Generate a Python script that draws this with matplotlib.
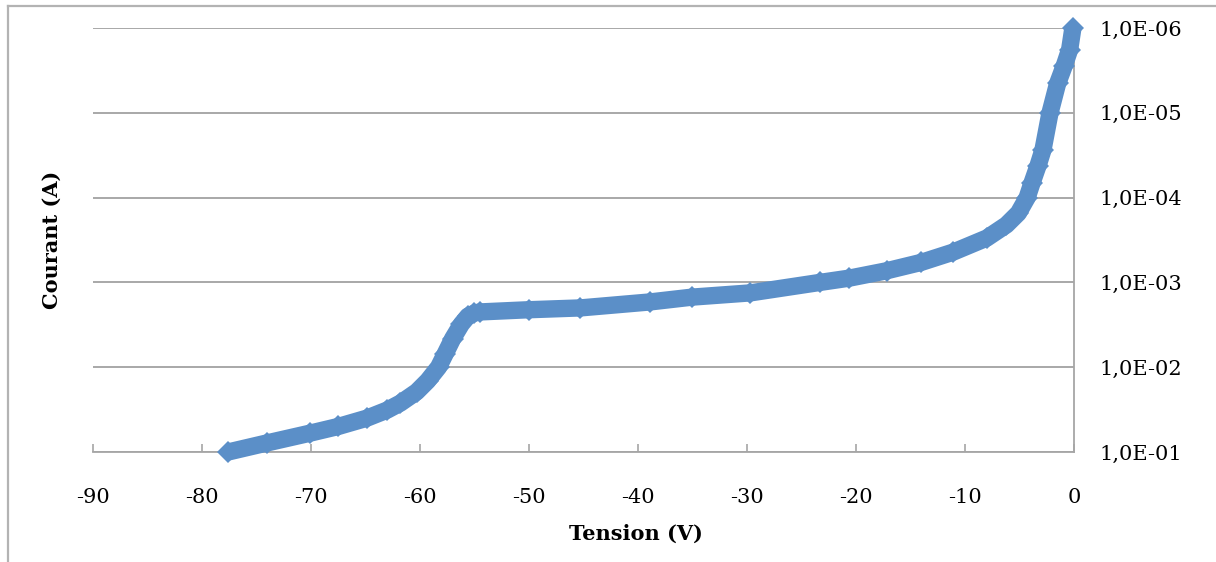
import matplotlib
matplotlib.use('Agg')
import matplotlib.pyplot as plt
from matplotlib.lines import Line2D
import numpy as np

# data (tension in V, courant in A)
tension = [-77.6, -74.0, -70.1, -67.5, -64.9, -63.0, -61.8, -60.3, -59.3, -58.3, -57.7, -57.0, -56.2,
           -55.6, -55.0, -54.5, -50.0, -45.3, -38.9, -35.0, -29.7, -23.3, -20.6, -17.2,
           -14.0, -11.1, -8.0, -6.2, -5.1, -4.3, -3.85, -3.3, -2.85, -2.2, -1.5, -0.9, -0.4, -0.1]
courant = [1.0e-1, 7.8e-2, 6.0e-2, 5.0e-2, 4.0e-2, 3.2e-2, 2.65e-2, 1.95e-2, 1.45e-2, 1.0e-2, 7.0e-3, 4.6e-3, 3.1e-3,
           2.5e-3, 2.3e-3, 2.23e-3, 2.1e-3, 2.0e-3, 1.7e-3, 1.49e-3, 1.33e-3, 1.0e-3, 8.9e-4, 7.3e-4,
           5.8e-4, 4.4e-4, 3.0e-4, 2.1e-4, 1.52e-4, 1.0e-4, 6.7e-5, 4.2e-5, 2.75e-5, 1.0e-5, 4.5e-6, 2.8e-6, 1.8e-6, 1.0e-6]

xticks = [-90, -80, -70, -60, -50, -40, -30, -20, -10, 0]
yticks = [1e-1, 1e-2, 1e-3, 1e-4, 1e-5, 1e-6]
yticklabels = ['1,0E-01', '1,0E-02', '1,0E-03', '1,0E-04', '1,0E-05', '1,0E-06']

plt.rcParams['font.family'] = 'DejaVu Serif'
plt.rcParams['font.size'] = 15

W, H = 1216, 562
fig = plt.figure(figsize=(W/100, H/100), dpi=100)
ax = fig.add_axes([93/W, 1-452/H, (1074-93)/W, (452-28)/H])

blue = '#5B8FC8'
grey = '#A6A6A6'

ax.plot(tension, courant, color=blue, lw=12.5, solid_capstyle='butt', solid_joinstyle='round',
        marker='D', markersize=11.5, markeredgewidth=0, zorder=3, clip_on=False)

ax.set_yscale('log')
ax.set_xlim(-90, 0)
ax.set_ylim(1e-1, 1e-6)
ax.yaxis.set_minor_locator(matplotlib.ticker.NullLocator())
ax.set_yticks(yticks)
ax.set_yticklabels(yticklabels)
ax.set_xticks(xticks)
ax.set_xticklabels([str(t) for t in xticks])

ax.yaxis.tick_right()
ax.tick_params(axis='y', length=0, pad=18)
ax.tick_params(axis='x', direction='in', length=6, width=1.2, color=grey, pad=26)

ax.grid(axis='y', color='#999999', lw=1.2)
ax.set_axisbelow(True)

for s in ['top', 'left']:
    ax.spines[s].set_visible(False)
for s in ['right', 'bottom']:
    ax.spines[s].set_color(grey)
    ax.spines[s].set_linewidth(1.3)

ax.set_xlabel('Tension (V)', fontweight='bold')
ax.xaxis.set_label_coords((636-93)/(1074-93), (452-524)/(452-28))
ax.set_ylabel('Courant (A)', fontweight='bold')
ax.yaxis.set_label_position('left')
ax.yaxis.set_label_coords((62-93)/(1074-93), 0.5)

# chart frame (cut off at right and bottom)
fig.add_artist(Line2D([8/W, 1], [1-6/H, 1-6/H], transform=fig.transFigure, color='#B3B3B3', lw=1.6))
fig.add_artist(Line2D([8/W, 8/W], [0, 1-6/H], transform=fig.transFigure, color='#B3B3B3', lw=1.6))

fig.savefig('out.png', dpi=100)
